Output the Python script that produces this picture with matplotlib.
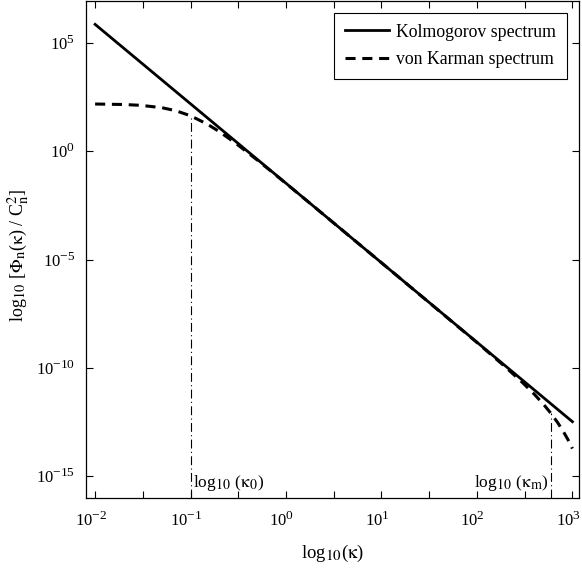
import matplotlib
matplotlib.use("Agg")
import matplotlib.pyplot as plt
import matplotlib._mathtext as mathtext_internal
from matplotlib.ticker import NullFormatter
from matplotlib.transforms import ScaledTranslation
import numpy as np

# values (log-log)
kappa_kol = [1e-2, 1e-1, 1e0, 1e1, 1e2, 1e3]
phi_kol = [7.11e5, 1.53e2, 3.30e-2, 7.11e-6, 1.53e-9, 3.30e-13]

kappa_vk = [0.01, 0.02, 0.03, 0.05, 0.07, 0.1, 0.15, 0.2, 0.3, 0.5, 0.7, 1, 2, 5,
            10, 100, 200, 300, 400, 500, 600, 700, 800, 900, 1000]
phi_vk = [150.4, 142.5, 130.8, 101.7, 73.8, 43.0, 17.6, 8.01, 2.25, 0.390, 0.1176,
          3.24e-2, 2.59e-3, 9.02e-5, 7.11e-6, 1.49e-9, 1.076e-10, 2.109e-11,
          6.016e-12, 2.053e-12, 7.69e-13, 3.016e-13, 1.204e-13, 4.81e-14, 1.90e-14]

kappa_0, phi_at_k0 = 0.1, 43.0
kappa_m, phi_at_km = 592.0, 8.3e-13

x_major = [1e-2, 1e-1, 1e0, 1e1, 1e2, 1e3]
x_minor = [10 ** (k + 0.5) for k in range(-2, 3)]
y_major = [1e-15, 1e-10, 1e-5, 1e0, 1e5]

plt.rcParams["font.family"] = "Liberation Serif"
plt.rcParams["mathtext.fontset"] = "stix"
plt.rcParams["axes.unicode_minus"] = False
# matlab-like: super/subscripts barely shrunk
mathtext_internal.SHRINK_FACTOR = 0.8

fig = plt.figure(figsize=(5.82, 5.73), dpi=100)
ax = fig.add_axes([0.148, 0.131, 0.847, 0.868])

ax.plot(kappa_kol, phi_kol, color="black", lw=2, label="Kolmogorov spectrum")
ax.plot(kappa_vk, phi_vk, color="black", lw=2.2, linestyle=(0, (3.3, 2.2)),
        label="von Karman spectrum")

dashdot = (0, (8, 3, 1, 3))
ax.plot([kappa_0, kappa_0], [1e-16, phi_at_k0], color="black", lw=0.8, linestyle=dashdot)
ax.plot([kappa_m, kappa_m], [1e-16, phi_at_km], color="black", lw=0.8, linestyle=dashdot)

ax.text(kappa_0 * 1.05, 10 ** -15.3, r"log$_{10}$ ($\mathrm{\kappa}_0$)",
        fontsize=12.5, va="center", ha="left")
ax.text(kappa_m * 0.95, 10 ** -15.3, r"log$_{10}$ ($\mathrm{\kappa}_\mathrm{m}$)",
        fontsize=12.5, va="center", ha="right")

ax.set_xscale("log")
ax.set_yscale("log")
ax.set_xlim(10 ** -2.094, 10 ** 3.07)
ax.set_ylim(1e-16, 10 ** 6.95)

ax.set_xticks(x_major)
ax.set_xticks(x_minor, minor=True)
ax.xaxis.set_minor_formatter(NullFormatter())
ax.set_yticks(y_major)
ax.set_yticks([], minor=True)

ax.tick_params(which="both", direction="in", top=True, right=True, length=5,
               width=0.8, labelsize=12)
ax.tick_params(axis="x", pad=10)
ax.tick_params(axis="y", pad=8)

# labels sit a touch left of their ticks, as in the original
shift = ScaledTranslation(-3 / 72, 0, fig.dpi_scale_trans)
for lab in ax.get_xticklabels():
    lab.set_transform(lab.get_transform() + shift)

ax.set_xlabel(r"log$_{10}$($\mathrm{\kappa}$)", fontsize=13.5, labelpad=9)
ax.set_ylabel(r"log$_{10}$ [$\Phi_\mathrm{n}$($\mathrm{\kappa}$) / C$_\mathrm{n}^2$]",
              fontsize=13)
ax.yaxis.set_label_coords(-0.112, 0.487)

for s in ax.spines.values():
    s.set_linewidth(0.9)

leg = ax.legend(loc="upper right", bbox_to_anchor=(0.9757, 0.975), fontsize=12.8,
                handlelength=2.5, fancybox=False, framealpha=1, borderpad=0.6,
                labelspacing=0.6, handletextpad=0.4, borderaxespad=0)
leg.get_frame().set_edgecolor("black")
leg.get_frame().set_linewidth(0.8)

fig.savefig("out.png", dpi=100)
